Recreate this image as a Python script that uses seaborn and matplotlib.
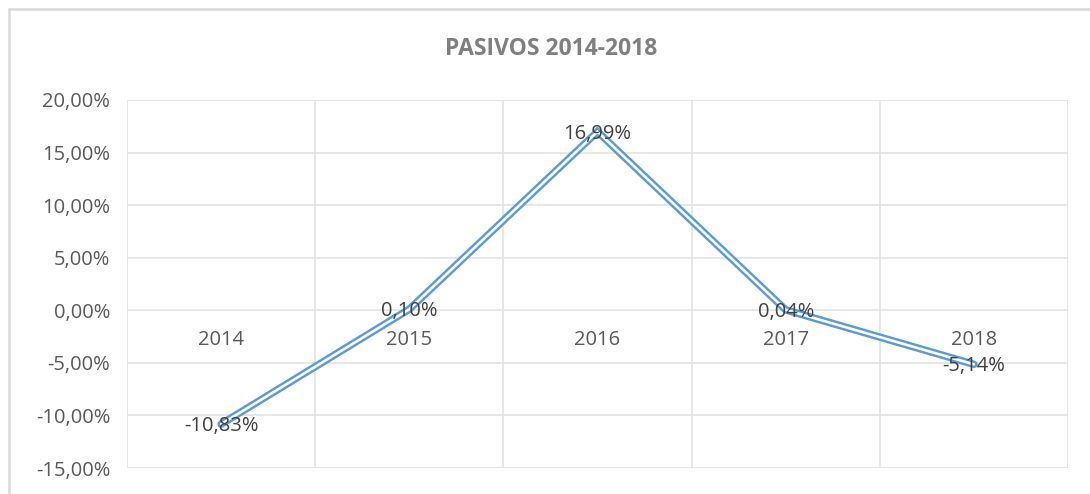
import matplotlib
matplotlib.use("Agg")
import matplotlib.pyplot as plt
import seaborn as sns
import pandas as pd
from matplotlib.lines import Line2D
from matplotlib.ticker import FixedLocator

# ─── Data ────────────────────────────────────────────────
years = ["2014", "2015", "2016", "2017", "2018"]
pasivos_pct = [-10.83, 0.10, 16.99, 0.04, -5.14]
y_ticks = [-15, -10, -5, 0, 5, 10, 15, 20]

TITLE = "PASIVOS 2014-2018"
BLUE = "#5B9BD5"
TEXT = "#595959"
GRID = "#E3E3E3"

df = pd.DataFrame({"year": years, "pct": pasivos_pct})
df["x"] = range(len(df))


def fmt_pct(v):
    return f"{v:.2f}%".replace(".", ",")


sns.set_theme(style="white")
plt.rcParams["font.family"] = ["Open Sans", "DejaVu Sans"]

fig = plt.figure(figsize=(10.9, 4.94), dpi=100)
ax = fig.add_axes([127 / 1090, 1 - 468 / 494, (1068 - 127) / 1090, (468 - 100) / 494])

# double line: thick blue under a thin white core
sns.lineplot(data=df, x="x", y="pct", ax=ax, color=BLUE, linewidth=5.4,
             solid_joinstyle="miter", zorder=3)
sns.lineplot(data=df, x="x", y="pct", ax=ax, color="white", linewidth=1.9,
             solid_joinstyle="miter", zorder=4)

# data labels centred on the points
for x, v in zip(df["x"], df["pct"]):
    ax.text(x, v - 0.2, fmt_pct(v), ha="center", va="center", fontsize=14.5,
            color="#404040", zorder=5)

ax.set_xlim(-0.5, len(years) - 0.5)
ax.set_ylim(-15, 20)
ax.set_yticks(y_ticks)
ax.set_yticklabels([fmt_pct(t) for t in y_ticks], fontsize=14.5, color=TEXT)

# category labels sit just under the zero line, as in Excel
ax.spines["bottom"].set_position(("data", 0))
ax.set_xticks(df["x"])
ax.set_xticklabels(years, fontsize=14.5, color=TEXT)
ax.xaxis.set_minor_locator(FixedLocator([i - 0.5 for i in range(len(years) + 1)]))
ax.tick_params(axis="x", which="both", length=0, pad=14)
ax.tick_params(axis="y", length=0, pad=12)

ax.grid(axis="y", which="major", color=GRID, linewidth=1.2)
ax.grid(axis="x", which="minor", color=GRID, linewidth=1.2)
ax.grid(axis="x", which="major", visible=False)
for s in ax.spines.values():
    s.set_visible(False)
ax.set_xlabel("")
ax.set_ylabel("")

fig.text(551 / 1090, 1 - 49 / 494, TITLE, ha="center", va="center",
         fontsize=16.5, fontweight="bold", color="#7F7F7F")

# outer chart frame (left and top edges visible)
fig.add_artist(Line2D([9 / 1090, 9 / 1090], [0, 1 - 9 / 494],
                      transform=fig.transFigure, color="#D9D9D9", linewidth=1.8))
fig.add_artist(Line2D([9 / 1090, 1], [1 - 9 / 494, 1 - 9 / 494],
                      transform=fig.transFigure, color="#D9D9D9", linewidth=1.8))

fig.savefig("out.png", dpi=100)
